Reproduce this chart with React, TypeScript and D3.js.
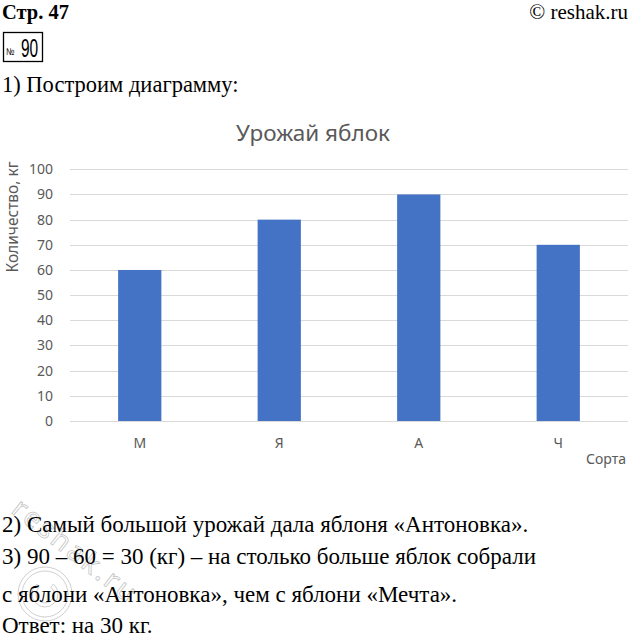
import React, { useEffect, useRef } from "react";
import * as d3 from "d3";

const categories = ["М", "Я", "А", "Ч"];
const values = [60, 80, 90, 70];
const yTicks = [0, 10, 20, 30, 40, 50, 60, 70, 80, 90, 100];
const chartTitle = "Урожай яблок";
const yTitle = "Количество, кг";
const xTitle = "Сорта";
const headerLeft = "Стр. 47";
const headerRight = "© reshak.ru";
const taskNumber = "90";
const introLine = "1) Построим диаграмму:";
const answerLines = [
  "2) Самый большой урожай дала яблоня «Антоновка».",
  "3) 90 – 60 = 30 (кг) – на столько больше яблок собрали",
  "с яблони «Антоновка», чем с яблони «Мечта».",
  "Ответ: на 30 кг.",
];

const W = 632;
const H = 638;
const serif = "'Liberation Serif', 'Times New Roman', serif";
const sans = "'Noto Sans', 'Open Sans', sans-serif";
const gray = "#595959";

export default function App() {
  const ref = useRef<SVGSVGElement>(null);

  useEffect(() => {
    const svg = d3.select(ref.current);
    svg.selectAll("*").remove();

    // header
    svg.append("text").attr("x", 2).attr("y", 18.5).attr("font-family", serif)
      .attr("font-weight", "bold").attr("font-size", 20.5).attr("fill", "#000").text(headerLeft);
    svg.append("text").attr("x", 628).attr("y", 18.5).attr("text-anchor", "end").attr("font-family", serif)
      .attr("font-size", 21).attr("fill", "#000").text(headerRight);

    const box = svg.append("g");
    box.append("rect").attr("x", 3.5).attr("y", 32.5).attr("width", 39).attr("height", 29)
      .attr("fill", "none").attr("stroke", "#000").attr("stroke-width", 1.3);
    box.append("text").attr("transform", "translate(6,55) scale(0.8,1)")
      .attr("font-family", "'Liberation Sans', sans-serif").attr("font-size", 10).text("№");
    box.append("text").attr("transform", "translate(21,57) scale(0.62,1)")
      .attr("font-family", "'Liberation Sans', sans-serif").attr("font-size", 25).text(taskNumber);

    svg.append("text").attr("x", 2).attr("y", 92).attr("font-family", serif)
      .attr("font-size", 22.5).text(introLine);

    // chart
    const x0 = 70, x1 = 628, yTop = 169.3, yBot = 421;
    const x = d3.scaleBand<string>().domain(categories).range([x0, x1]).paddingInner(0.69).paddingOuter(0.345);
    const y = d3.scaleLinear().domain([0, 100]).range([yBot, yTop]);

    svg.append("text").attr("x", 313).attr("y", 141).attr("text-anchor", "middle")
      .attr("font-family", sans).attr("font-size", 22.5).attr("fill", gray).text(chartTitle);

    const grid = svg.append("g");
    grid.selectAll("line").data(yTicks).join("line")
      .attr("x1", x0).attr("x2", x1)
      .attr("y1", (d) => Math.round(y(d)) + 0.5).attr("y2", (d) => Math.round(y(d)) + 0.5)
      .attr("stroke", "#d9d9d9").attr("stroke-width", 1);

    svg.append("g").selectAll("text").data(yTicks).join("text")
      .attr("x", 53).attr("y", (d) => y(d) + 5).attr("text-anchor", "end")
      .attr("font-family", sans).attr("font-size", 14).attr("fill", gray).text((d) => String(d));

    svg.append("g").selectAll("rect").data(values).join("rect")
      .attr("x", (_d, i) => x(categories[i])!).attr("width", x.bandwidth())
      .attr("y", (d) => y(d)).attr("height", (d) => yBot - y(d))
      .attr("fill", "#4472c4");

    svg.append("g").selectAll("text").data(categories).join("text")
      .attr("x", (d) => x(d)! + x.bandwidth() / 2).attr("y", 448).attr("text-anchor", "middle")
      .attr("font-family", sans).attr("font-size", 14).attr("fill", gray).text((d) => d);

    svg.append("text").attr("x", 626).attr("y", 464).attr("text-anchor", "end")
      .attr("font-family", sans).attr("font-size", 14).attr("fill", gray).text(xTitle);

    svg.append("text").attr("transform", "translate(18,217) rotate(-90)").attr("text-anchor", "middle")
      .attr("font-family", sans).attr("font-size", 15.5).attr("fill", gray).text(yTitle);

    // watermark
    const wm = svg.append("g").attr("opacity", 0.5);
    wm.append("text").attr("transform", "translate(10,512) rotate(38)")
      .attr("font-family", sans).attr("font-size", 28)
      .attr("fill", "none").attr("stroke", "#8a8a8a").attr("stroke-width", 0.8)
      .attr("letter-spacing", 3).text("reshak.ru");
    wm.append("circle").attr("cx", 45).attr("cy", 594).attr("r", 27)
      .attr("fill", "none").attr("stroke", "#8a8a8a").attr("stroke-width", 0.8);
    wm.append("circle").attr("cx", 45).attr("cy", 594).attr("r", 23)
      .attr("fill", "none").attr("stroke", "#8a8a8a").attr("stroke-width", 0.8);
    const arc = d3.arc()({ innerRadius: 9, outerRadius: 13, startAngle: 0.7, endAngle: 2 * Math.PI - 0.7 } as any);
    wm.append("path").attr("d", arc).attr("transform", "translate(45,594)")
      .attr("fill", "none").attr("stroke", "#8a8a8a").attr("stroke-width", 0.8);

    // answer text
    const baselines = [532, 564, 602, 633];
    svg.append("g").selectAll("text").data(answerLines).join("text")
      .attr("x", 2).attr("y", (_d, i) => baselines[i])
      .attr("font-family", serif).attr("font-size", 23).attr("fill", "#000").text((d) => d);
  }, []);

  return (
    <svg ref={ref} width={W} height={H} viewBox={`0 0 ${W} ${H}`}
      style={{ position: "absolute", left: 0, top: 0, background: "#fff" }} />
  );
}
